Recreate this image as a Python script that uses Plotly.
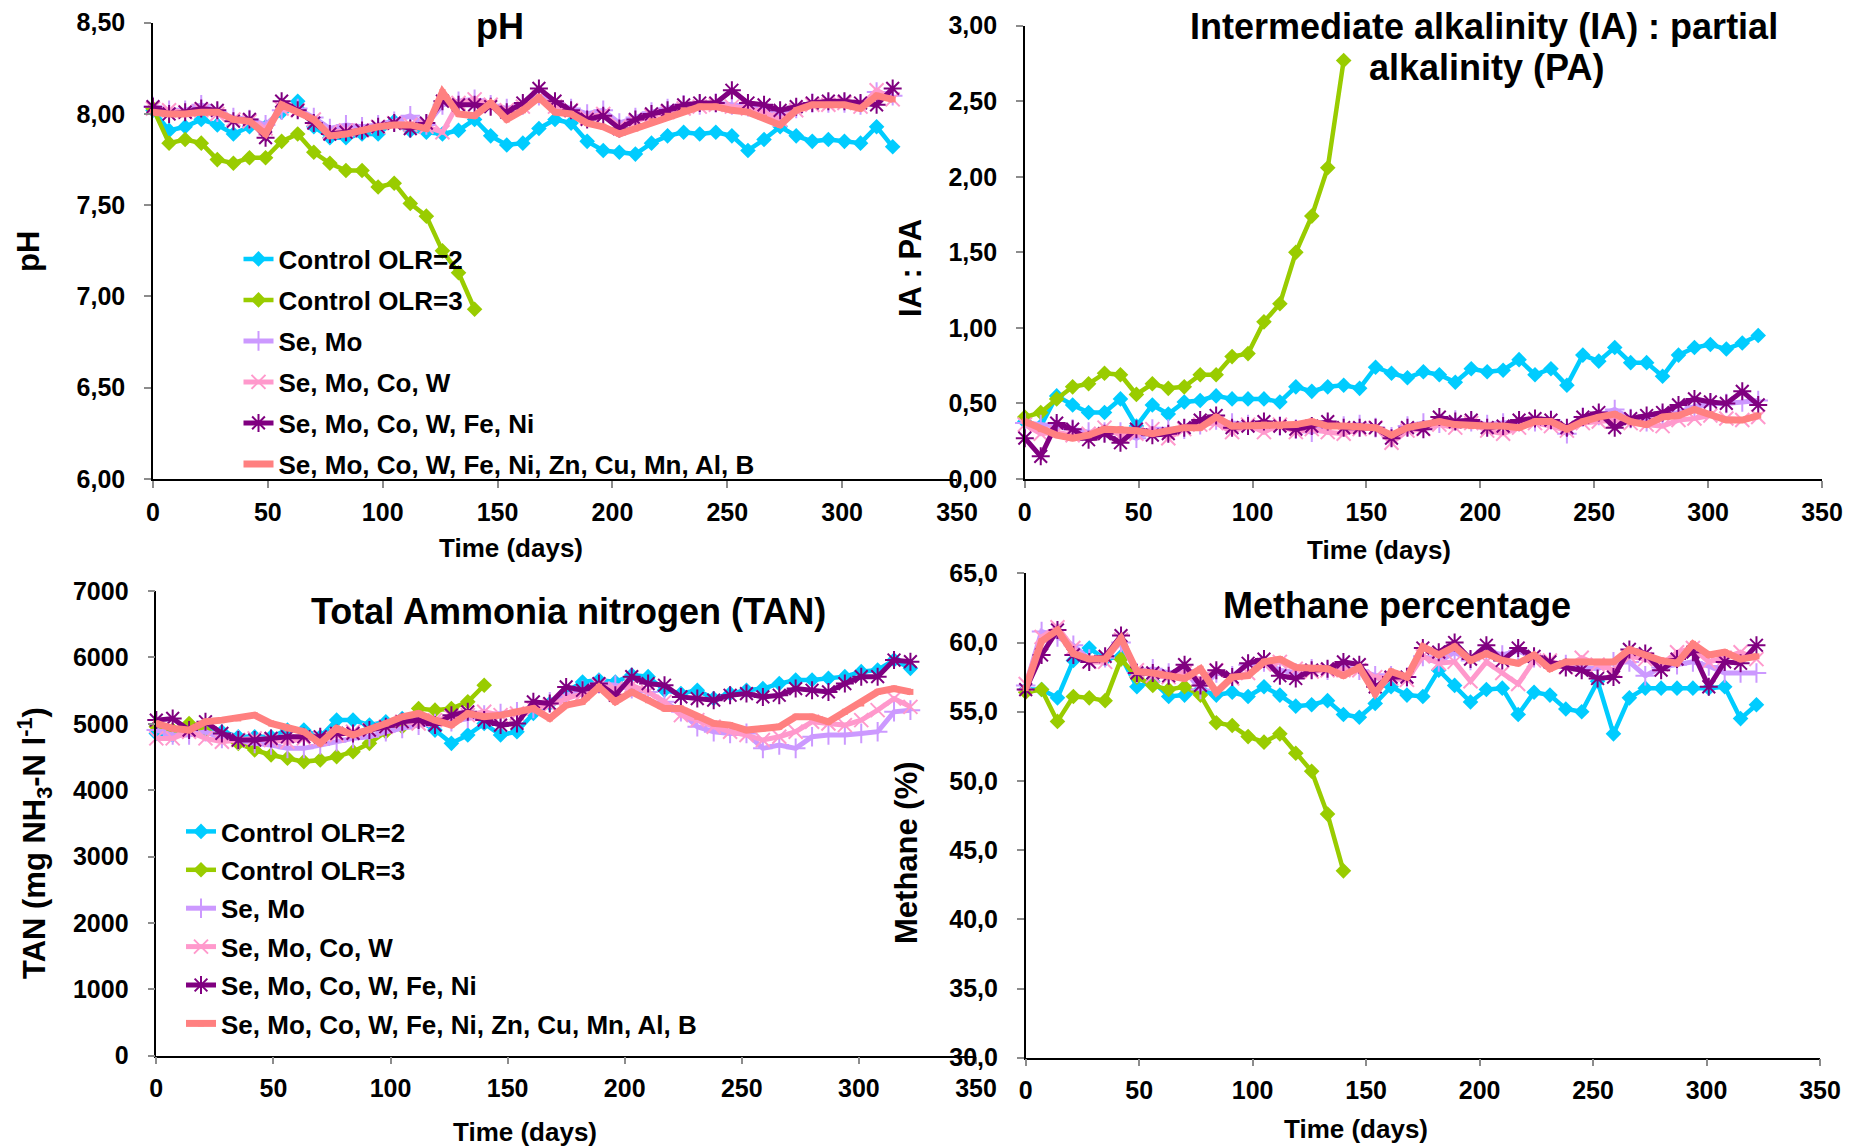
import plotly.graph_objects as go

# Sampling days (weekly)
DAYS = [0, 7, 14, 21, 28, 35, 42, 49, 56, 63, 70, 77, 84, 91, 98, 105, 112, 119,
        126, 133, 140, 147, 154, 161, 168, 175, 182, 189, 196, 203, 210, 217, 224,
        231, 238, 245, 252, 259, 266, 273, 280, 287, 294, 301, 308, 315, 322]
DAYS_OLR3 = [0, 7, 14, 21, 28, 35, 42, 49, 56, 63, 70, 77, 84, 91, 98, 105, 112,
             119, 126, 133, 140]

SERIES = ["Control OLR=2", "Control OLR=3", "Se, Mo", "Se, Mo, Co, W",
          "Se, Mo, Co, W, Fe, Ni", "Se, Mo, Co, W, Fe, Ni, Zn, Cu, Mn, Al, B"]

# pH
PH_CTRL2 = [8.02, 7.91, 7.93, 7.97, 7.94, 7.89, 7.93, 7.93, 8.01, 8.07, 7.93, 7.87,
            7.87, 7.89, 7.89, 7.96, 7.91, 7.90, 7.89, 7.91, 7.97, 7.88, 7.83, 7.84,
            7.92, 7.97, 7.95, 7.85, 7.80, 7.79, 7.78, 7.84, 7.88, 7.90, 7.89, 7.90,
            7.88, 7.80, 7.86, 7.93, 7.88, 7.85, 7.86, 7.85, 7.84, 7.93, 7.82]
PH_CTRL3 = [8.03, 7.84, 7.86, 7.84, 7.75, 7.73, 7.76, 7.76, 7.85, 7.89, 7.79, 7.73,
            7.69, 7.69, 7.60, 7.62, 7.51, 7.44, 7.25, 7.13, 6.93]
PH_SEMO = [8.04, 8.02, 8.02, 8.05, 8.01, 7.98, 7.97, 7.94, 8.02, 8.03, 7.98, 7.92,
           7.94, 7.93, 7.94, 7.96, 7.99, 7.94, 8.05, 8.07, 8.08, 8.05, 8.03, 8.05,
           8.10, 8.06, 8.03, 8.00, 8.02, 7.95, 7.98, 8.01, 8.03, 8.05, 8.05, 8.06,
           8.05, 8.04, 8.03, 8.00, 8.03, 8.06, 8.06, 8.06, 8.05, 8.12, 8.10]
PH_SEMOCOW = [8.03, 8.02, 8.01, 8.02, 8.00, 7.97, 7.96, 7.92, 8.03, 8.02, 7.97, 7.90,
              7.91, 7.91, 7.93, 7.95, 7.94, 7.93, 7.90, 8.06, 8.08, 8.05, 8.02, 8.04,
              8.09, 8.04, 8.02, 7.98, 8.00, 7.93, 7.96, 7.99, 8.01, 8.03, 8.04, 8.05,
              8.04, 8.03, 8.01, 7.97, 8.02, 8.05, 8.05, 8.06, 8.04, 8.13, 8.08]
PH_FENI = [8.04, 8.00, 8.01, 8.03, 8.02, 7.96, 7.97, 7.87, 8.07, 8.02, 7.95, 7.89,
           7.90, 7.91, 7.93, 7.95, 7.92, 7.95, 8.07, 8.05, 8.05, 8.04, 8.01, 8.06,
           8.14, 8.07, 8.02, 7.97, 7.99, 7.92, 7.97, 8.00, 8.02, 8.05, 8.06, 8.06,
           8.13, 8.06, 8.05, 8.02, 8.04, 8.06, 8.07, 8.07, 8.06, 8.05, 8.14]
PH_ALL = [8.01, 8.00, 8.00, 8.01, 8.01, 7.97, 7.96, 7.89, 8.05, 8.01, 7.97, 7.88,
          7.89, 7.91, 7.93, 7.94, 7.94, 7.92, 8.12, 8.00, 7.99, 8.06, 7.97, 8.02,
          8.09, 8.01, 8.00, 7.95, 7.93, 7.89, 7.92, 7.96, 7.99, 8.02, 8.04, 8.04,
          8.02, 8.01, 7.98, 7.94, 8.02, 8.05, 8.05, 8.05, 8.03, 8.10, 8.08]

# IA : PA ratio
IA_CTRL2 = [0.38, 0.35, 0.55, 0.49, 0.44, 0.44, 0.53, 0.35, 0.49, 0.43, 0.51, 0.52,
            0.55, 0.53, 0.53, 0.53, 0.51, 0.61, 0.58, 0.61, 0.62, 0.60, 0.74, 0.70,
            0.67, 0.71, 0.69, 0.64, 0.73, 0.71, 0.72, 0.79, 0.69, 0.73, 0.62, 0.82,
            0.78, 0.87, 0.77, 0.77, 0.68, 0.82, 0.87, 0.89, 0.86, 0.90, 0.95]
IA_CTRL3 = [0.41, 0.44, 0.53, 0.61, 0.63, 0.70, 0.69, 0.56, 0.63, 0.60, 0.61, 0.69,
            0.69, 0.81, 0.83, 1.04, 1.16, 1.50, 1.74, 2.06, 2.77]
IA_SEMO = [0.37, 0.36, 0.35, 0.33, 0.31, 0.31, 0.31, 0.27, 0.33, 0.33, 0.33, 0.36,
           0.39, 0.37, 0.36, 0.37, 0.35, 0.33, 0.31, 0.36, 0.35, 0.36, 0.34, 0.28,
           0.35, 0.37, 0.37, 0.39, 0.38, 0.36, 0.37, 0.38, 0.38, 0.39, 0.30, 0.41,
           0.42, 0.46, 0.40, 0.38, 0.42, 0.44, 0.48, 0.50, 0.50, 0.51, 0.52]
IA_SEMOCOW = [0.36, 0.30, 0.31, 0.29, 0.30, 0.34, 0.29, 0.30, 0.33, 0.27, 0.33, 0.36,
              0.37, 0.31, 0.36, 0.31, 0.36, 0.31, 0.33, 0.31, 0.30, 0.33, 0.34, 0.24,
              0.32, 0.33, 0.36, 0.34, 0.37, 0.32, 0.30, 0.34, 0.37, 0.35, 0.32, 0.37,
              0.38, 0.39, 0.37, 0.36, 0.35, 0.39, 0.40, 0.42, 0.40, 0.39, 0.41]
IA_FENI = [0.27, 0.15, 0.37, 0.33, 0.26, 0.30, 0.24, 0.33, 0.29, 0.30, 0.34, 0.39,
           0.42, 0.34, 0.35, 0.38, 0.35, 0.33, 0.35, 0.38, 0.34, 0.34, 0.34, 0.27,
           0.34, 0.33, 0.41, 0.38, 0.39, 0.34, 0.35, 0.39, 0.40, 0.39, 0.34, 0.41,
           0.44, 0.34, 0.40, 0.42, 0.44, 0.49, 0.53, 0.51, 0.50, 0.58, 0.49]
IA_ALL = [0.38, 0.33, 0.29, 0.27, 0.29, 0.33, 0.33, 0.32, 0.30, 0.32, 0.34, 0.34,
          0.41, 0.35, 0.35, 0.36, 0.35, 0.36, 0.38, 0.35, 0.35, 0.35, 0.34, 0.29,
          0.34, 0.36, 0.38, 0.36, 0.35, 0.35, 0.35, 0.34, 0.38, 0.38, 0.33, 0.38,
          0.41, 0.43, 0.38, 0.36, 0.41, 0.42, 0.46, 0.43, 0.39, 0.39, 0.42]

# Total ammonia nitrogen (mg NH3-N/l)
TAN_CTRL2 = [4855, 4830, 4930, 4955, 4880, 4805, 4805, 4805, 4905, 4905, 4805, 5055,
             5055, 4980, 5030, 5080, 5055, 4905, 4705, 4830, 5005, 4830, 4880, 5155,
             5305, 5480, 5630, 5660, 5630, 5735, 5710, 5505, 5455, 5505, 5380, 5455,
             5505, 5530, 5605, 5660, 5660, 5685, 5710, 5785, 5810, 5960, 5835]
TAN_CTRL3 = [4955, 4905, 5005, 4880, 4805, 4705, 4605, 4530, 4480, 4430, 4455, 4505,
             4580, 4705, 4880, 4955, 5230, 5205, 5230, 5330, 5580]
TAN_SEMO = [4905, 4830, 4830, 4880, 4780, 4755, 4705, 4680, 4630, 4630, 4680, 4730,
            4780, 4805, 4880, 4930, 4980, 5005, 5030, 5080, 5130, 5155, 5180, 5230,
            5330, 5430, 5505, 5605, 5580, 5530, 5480, 5330, 5180, 4955, 4880, 4855,
            4855, 4630, 4680, 4630, 4805, 4830, 4830, 4855, 4880, 5180, 5205]
TAN_SEMOCOW = [4780, 4780, 4880, 4780, 4730, 4755, 4780, 4755, 4730, 4780, 4780, 4830,
               4880, 4905, 4955, 5030, 5005, 5055, 5105, 5130, 5180, 5130, 5155, 5230,
               5280, 5380, 5455, 5580, 5530, 5580, 5480, 5330, 5130, 5055, 4955, 4880,
               4830, 4755, 4805, 4880, 5030, 5005, 4980, 5055, 5205, 5380, 5255]
TAN_FENI = [5055, 5080, 4905, 5030, 4855, 4755, 4755, 4780, 4805, 4805, 4805, 4855,
            4855, 4905, 4955, 5030, 5055, 4980, 5130, 5180, 5055, 4980, 5005, 5330,
            5305, 5555, 5505, 5605, 5430, 5710, 5605, 5580, 5405, 5380, 5355, 5430,
            5455, 5405, 5430, 5530, 5505, 5480, 5605, 5710, 5710, 5960, 5935]
TAN_ALL = [5005, 4930, 4905, 5030, 5055, 5080, 5130, 5005, 4930, 4880, 4705, 4930,
           4830, 4905, 5005, 5105, 5155, 5055, 4980, 5155, 5105, 5130, 5180, 5230,
           5080, 5280, 5330, 5555, 5330, 5480, 5355, 5230, 5230, 5105, 5005, 4980,
           4905, 4930, 4955, 5105, 5105, 5030, 5180, 5305, 5480, 5530, 5480]

# Methane content of biogas (%)
CH4_CTRL2 = [56.6, 56.6, 56.0, 58.7, 59.6, 58.8, 59.0, 56.8, 57.2, 56.1, 56.2, 56.6,
             56.2, 56.4, 56.1, 56.8, 56.2, 55.4, 55.5, 55.8, 54.8, 54.6, 55.6, 56.8,
             56.2, 56.1, 58.0, 56.9, 55.7, 56.6, 56.7, 54.8, 56.4, 56.2, 55.2, 55.0,
             57.2, 53.4, 56.0, 56.7, 56.7, 56.7, 56.7, 56.7, 56.8, 54.5, 55.5]
CH4_CTRL3 = [56.4, 56.6, 54.3, 56.1, 56.0, 55.8, 58.8, 57.5, 56.9, 56.6, 56.8, 56.2,
             54.2, 54.0, 53.2, 52.8, 53.4, 52.0, 50.7, 47.6, 43.5]
CH4_SEMO = [56.9, 60.8, 60.4, 59.8, 58.8, 58.9, 60.0, 57.8, 58.1, 57.8, 58.0, 56.6,
            57.8, 57.6, 58.4, 58.6, 58.0, 57.8, 58.1, 58.0, 58.2, 58.0, 57.6, 57.6,
            57.5, 59.0, 58.6, 59.3, 58.7, 59.4, 59.1, 59.4, 58.9, 58.6, 58.4, 58.2,
            58.1, 58.6, 58.6, 57.6, 58.2, 58.4, 58.6, 58.3, 57.8, 57.8, 57.8]
CH4_SEMOCOW = [57.0, 60.4, 61.1, 59.6, 58.6, 58.6, 60.2, 58.0, 57.6, 57.5, 57.8, 57.3,
               58.0, 57.4, 57.8, 58.4, 58.6, 58.1, 57.9, 58.0, 58.0, 58.0, 57.5, 57.4,
               57.3, 59.0, 58.5, 58.6, 57.2, 58.6, 57.8, 57.0, 58.7, 58.7, 58.2, 58.9,
               58.4, 58.0, 59.0, 58.8, 58.4, 59.3, 59.6, 58.6, 58.9, 59.3, 58.8]
CH4_FENI = [56.6, 59.1, 60.9, 59.1, 58.6, 59.0, 60.5, 57.8, 57.8, 57.6, 58.4, 56.9,
            58.0, 57.5, 58.5, 58.8, 57.6, 57.4, 58.0, 58.1, 58.6, 58.4, 56.8, 57.5,
            57.5, 59.6, 59.3, 60.0, 58.8, 59.8, 58.7, 59.6, 59.0, 58.6, 58.2, 58.0,
            57.4, 57.5, 59.5, 59.2, 58.0, 58.8, 59.3, 56.8, 58.6, 58.5, 59.8]
CH4_ALL = [56.7, 60.1, 60.9, 59.2, 58.8, 58.8, 60.3, 57.9, 57.8, 57.6, 57.4, 58.1,
           56.4, 57.5, 57.6, 58.6, 58.8, 58.2, 58.1, 58.1, 57.6, 58.2, 56.3, 57.9,
           57.5, 59.7, 59.1, 59.7, 58.7, 59.2, 58.7, 58.5, 59.1, 58.1, 58.6, 58.6,
           58.6, 58.6, 59.5, 59.1, 58.7, 58.5, 59.9, 59.1, 59.3, 58.8, 59.0]

COLORS = ["#00CCFF", "#99CC00", "#CC99FF", "#FF99CC", "#800080", "#FF8080"]
FONT = "Liberation Sans, Arial, sans-serif"
W, H = 1865, 1146

# per-series drawing style: (line width, marker symbol, marker size, marker line width)
STYLES = [
    (4.5, "diamond", 12, 0),
    (4.5, "diamond", 12, 0),
    (5, "cross-thin-open", 14, 2),
    (5, "x-thin-open", 14, 2),
    (5, "asterisk-open", 15, 2),
    (7, "square", 6, 0),
]

PANELS = [
    ("x", "y", [PH_CTRL2, PH_CTRL3, PH_SEMO, PH_SEMOCOW, PH_FENI, PH_ALL], "legend"),
    ("x2", "y2", [IA_CTRL2, IA_CTRL3, IA_SEMO, IA_SEMOCOW, IA_FENI, IA_ALL], None),
    ("x3", "y3", [TAN_CTRL2, TAN_CTRL3, TAN_SEMO, TAN_SEMOCOW, TAN_FENI, TAN_ALL], "legend2"),
    ("x4", "y4", [CH4_CTRL2, CH4_CTRL3, CH4_SEMO, CH4_SEMOCOW, CH4_FENI, CH4_ALL], None),
]

fig = go.Figure()
for xa, ya, values, leg in PANELS:
    for i, (name, vals) in enumerate(zip(SERIES, values)):
        lw, sym, ms, mlw = STYLES[i]
        days = DAYS_OLR3 if i == 1 else DAYS
        marker = dict(symbol=sym, size=ms, color=COLORS[i],
                      line=dict(width=mlw, color=COLORS[i]))
        fig.add_trace(go.Scatter(
            x=days, y=vals, name=name, xaxis=xa, yaxis=ya,
            mode="lines+markers", line=dict(color=COLORS[i], width=lw),
            marker=marker, cliponaxis=False,
            legendgroup=name,
            showlegend=leg is not None,
            legend=leg if leg else "legend",
        ))


def px_x(p):
    return p / W


def px_y(p):
    return 1 - p / H


axis_common = dict(
    showline=True, linecolor="black", linewidth=1.5, mirror=False,
    ticks="outside", ticklen=7, tickwidth=1.5, tickcolor="#8c8c8c",
    showgrid=False, zeroline=False, fixedrange=True, automargin=False,
    tickfont=dict(family=FONT, size=25, color="black", weight="bold"),
)
xaxis_common = dict(axis_common, range=[0, 350], dtick=50, tick0=0, ticklabelstandoff=3)

layout = dict(
    width=W, height=H, margin=dict(l=0, r=0, t=0, b=0, autoexpand=False),
    paper_bgcolor="white", plot_bgcolor="white",
    separators=",.",
    font=dict(family=FONT, color="black", weight="bold"),
    xaxis=dict(xaxis_common, domain=[px_x(153), px_x(957)], anchor="y"),
    yaxis=dict(axis_common, domain=[px_y(479), px_y(22.7)], anchor="x",
               range=[6, 8.5], dtick=0.5, tickformat=".2f", ticklabelstandoff=14),
    xaxis2=dict(xaxis_common, domain=[px_x(1024.8), px_x(1822)], anchor="y2"),
    yaxis2=dict(axis_common, domain=[px_y(479), px_y(25.7)], anchor="x2",
                range=[0, 3], dtick=0.5, tickformat=".2f", ticklabelstandoff=14),
    xaxis3=dict(xaxis_common, domain=[px_x(156.3), px_x(976)], anchor="y3"),
    yaxis3=dict(axis_common, domain=[px_y(1055.7), px_y(591)], anchor="x3",
                range=[0, 7000], dtick=1000, tickformat="d", ticklabelstandoff=14),
    xaxis4=dict(xaxis_common, domain=[px_x(1025.7), px_x(1820)], anchor="y4"),
    yaxis4=dict(axis_common, domain=[px_y(1057.7), px_y(573.3)], anchor="x4",
                range=[30, 65], dtick=5, tickformat=".1f", ticklabelstandoff=14),
    legend=dict(
        x=px_x(238.5), y=px_y(235.5), xanchor="left", yanchor="top",
        bgcolor="rgba(0,0,0,0)", borderwidth=0, tracegroupgap=4.2,
        font=dict(family=FONT, size=26, color="black", weight="bold"),
        itemclick=False, itemdoubleclick=False,
    ),
    legend2=dict(
        x=px_x(181), y=px_y(808), xanchor="left", yanchor="top",
        bgcolor="rgba(0,0,0,0)", borderwidth=0, tracegroupgap=1.6,
        font=dict(family=FONT, size=26, color="black", weight="bold"),
        itemclick=False, itemdoubleclick=False,
    ),
    showlegend=True,
)
fig.update_layout(**layout)


def label(text, x, y, size, angle=0):
    fig.add_annotation(
        text=text, x=px_x(x), y=px_y(y), xref="paper", yref="paper",
        xanchor="center", yanchor="middle", showarrow=False, textangle=angle,
        font=dict(family=FONT, size=size, color="black", weight="bold"),
    )


# panel titles
label("pH", 500, 27, 36)
label("Intermediate alkalinity (IA) : partial", 1484, 27, 36)
label("alkalinity (PA)", 1486, 68, 36)
label("Total Ammonia nitrogen (TAN)", 568, 611, 36)
label("Methane percentage", 1397, 606, 36)

# axis titles
label("Time (days)", 511, 548, 26)
label("Time (days)", 1379, 550, 26)
label("Time (days)", 525, 1132, 26)
label("Time (days)", 1356, 1129, 26)
label("pH", 28, 252, 31, -90)
label("IA : PA", 910, 268, 31, -90)
label("TAN (mg NH<sub>3</sub>-N l<sup>-1</sup>)", 34, 843, 31, -90)
label("Methane (%)", 906, 853, 31, -90)

fig.write_html("out.html")
